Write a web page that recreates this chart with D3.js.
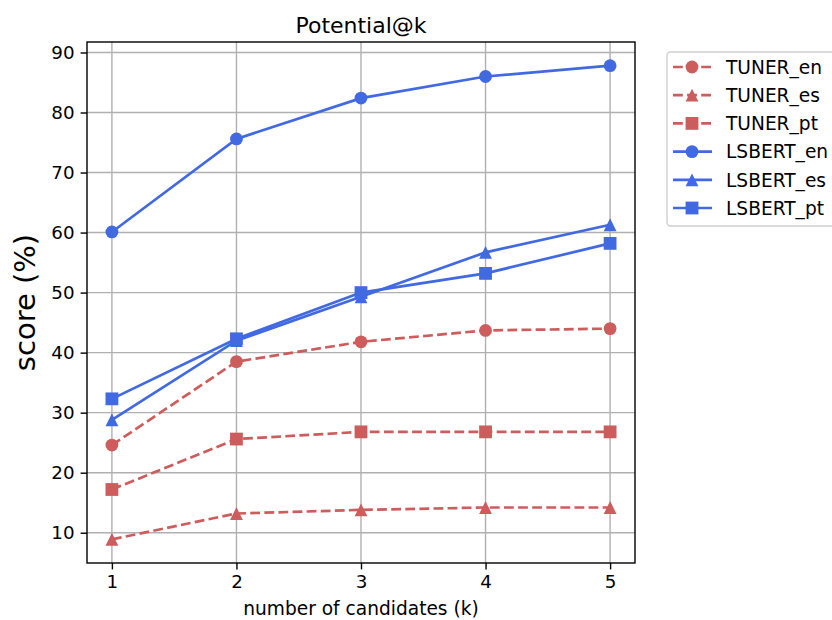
<!DOCTYPE html>
<html>
<head>
<meta charset="utf-8">
<script src="https://cdn.jsdelivr.net/npm/d3@7"></script>
<style>
  body { margin: 0; background: #fff; }
  text { font-family: "DejaVu Sans", sans-serif; fill: #000; }
</style>
</head>
<body>
<div id="chart"></div>
<script>
// data
const ks = [1, 2, 3, 4, 5];
const tunerEn = [24.6, 38.5, 41.8, 43.7, 44.0];
const tunerEs = [8.9, 13.2, 13.8, 14.2, 14.2];
const tunerPt = [17.2, 25.6, 26.8, 26.8, 26.8];
const lsbertEn = [60.1, 75.6, 82.4, 86.0, 87.8];
const lsbertEs = [28.8, 42.0, 49.3, 56.7, 61.3];
const lsbertPt = [32.3, 42.3, 50.0, 53.2, 58.2];
const yTicks = [10, 20, 30, 40, 50, 60, 70, 80, 90];

const red = "#cd5c5c";
const blue = "#4169e1";

const series = [
  { name: "TUNER_en", values: tunerEn, color: red, dashed: true, marker: "circle" },
  { name: "TUNER_es", values: tunerEs, color: red, dashed: true, marker: "triangle" },
  { name: "TUNER_pt", values: tunerPt, color: red, dashed: true, marker: "square" },
  { name: "LSBERT_en", values: lsbertEn, color: blue, dashed: false, marker: "circle" },
  { name: "LSBERT_es", values: lsbertEs, color: blue, dashed: false, marker: "triangle" },
  { name: "LSBERT_pt", values: lsbertPt, color: blue, dashed: false, marker: "square" },
];

const width = 832, height = 620;
const margin = { top: 42, left: 87, right: 197, bottom: 57 };
const innerW = width - margin.left - margin.right;
const innerH = height - margin.top - margin.bottom;

const fontTick = 18.3;
const lw = 2.7;
const ms = 12.8; // marker size (px)
const dash = "9.8,4.3";

const svg = d3.select("#chart").append("svg")
  .attr("width", width).attr("height", height);

const bounds = svg.append("g")
  .attr("transform", `translate(${margin.left},${margin.top})`);

// matplotlib-like 5% padding
const allVals = series.flatMap(s => s.values);
const yMin = d3.min(allVals), yMax = d3.max(allVals);
const pad = (yMax - yMin) * 0.05;

const xScale = d3.scaleLinear().domain([0.8, 5.2]).range([0, innerW]);
const yScale = d3.scaleLinear().domain([yMin - pad, yMax + pad]).range([innerH, 0]);

// grid
bounds.append("g").selectAll("line").data(ks).join("line")
  .attr("x1", d => xScale(d)).attr("x2", d => xScale(d))
  .attr("y1", 0).attr("y2", innerH)
  .attr("stroke", "#b0b0b0").attr("stroke-width", 1.4);
bounds.append("g").selectAll("line").data(yTicks).join("line")
  .attr("y1", d => yScale(d)).attr("y2", d => yScale(d))
  .attr("x1", 0).attr("x2", innerW)
  .attr("stroke", "#b0b0b0").attr("stroke-width", 1.4);

// axes
const xAxis = bounds.append("g")
  .attr("transform", `translate(0,${innerH})`)
  .call(d3.axisBottom(xScale).tickValues(ks).tickFormat(d3.format("d")).tickSize(6.4).tickPadding(6).tickSizeOuter(0));
const yAxis = bounds.append("g")
  .call(d3.axisLeft(yScale).tickValues(yTicks).tickSize(6.4).tickPadding(6).tickSizeOuter(0));
[xAxis, yAxis].forEach(ax => {
  ax.attr("font-size", fontTick).attr("font-family", "DejaVu Sans");
  ax.select(".domain").remove();
  ax.selectAll(".tick line").attr("stroke", "#000").attr("stroke-width", 1.4);
  ax.selectAll(".tick text").attr("fill", "#000");
});

// lines
const line = d3.line().x((d, i) => xScale(ks[i])).y(d => yScale(d));

// matplotlib style markers: width = height = ms
function markerPath(type) {
  const h = ms / 2;
  if (type === "circle") return d3.symbol().type(d3.symbolCircle).size(Math.PI * h * h)();
  if (type === "square") return `M${-h},${-h}H${h}V${h}H${-h}Z`;
  return `M0,${-h}L${h},${h}L${-h},${h}Z`;
}

const seriesG = bounds.append("g");
series.forEach(s => {
  const g = seriesG.append("g");
  g.append("path").datum(s.values)
    .attr("d", line)
    .attr("fill", "none")
    .attr("stroke", s.color)
    .attr("stroke-width", lw)
    .attr("stroke-dasharray", s.dashed ? dash : null);
  g.selectAll("path.mk").data(s.values).join("path")
    .attr("class", "mk")
    .attr("d", markerPath(s.marker))
    .attr("transform", (d, i) => `translate(${xScale(ks[i])},${yScale(d)})`)
    .attr("fill", s.color);
});

// frame
bounds.append("rect")
  .attr("width", innerW).attr("height", innerH)
  .attr("fill", "none").attr("stroke", "#000").attr("stroke-width", 1.4);

// labels
svg.append("text")
  .attr("x", margin.left + innerW / 2).attr("y", 33)
  .attr("text-anchor", "middle").attr("font-size", 22)
  .text("Potential@k");
svg.append("text")
  .attr("x", margin.left + innerW / 2).attr("y", 615)
  .attr("text-anchor", "middle").attr("font-size", 18.6)
  .text("number of candidates (k)");
svg.append("text")
  .attr("transform", `translate(35,${margin.top + innerH / 2}) rotate(-90)`)
  .attr("text-anchor", "middle").attr("font-size", 29)
  .text("score (%)");

// legend
const legend = svg.append("g").attr("transform", "translate(667,52)");
legend.append("rect")
  .attr("x", 0).attr("y", 0)
  .attr("width", 190).attr("height", 174)
  .attr("rx", 3.5)
  .attr("fill", "#fff").attr("stroke", "#d0d0d0").attr("stroke-width", 1.4);
const rowH = 28.2;
series.forEach((s, i) => {
  const gy = 15 + i * rowH;
  const row = legend.append("g").attr("transform", `translate(0,${gy})`);
  row.append("line")
    .attr("x1", 6).attr("x2", 45)
    .attr("stroke", s.color).attr("stroke-width", lw)
    .attr("stroke-dasharray", s.dashed ? dash : null);
  row.append("path")
    .attr("d", markerPath(s.marker))
    .attr("transform", "translate(25,0)")
    .attr("fill", s.color);
  row.append("text")
    .attr("x", 59).attr("y", 0).attr("dy", "0.36em")
    .attr("font-size", 18.6)
    .text(s.name);
});
</script>
</body>
</html>
